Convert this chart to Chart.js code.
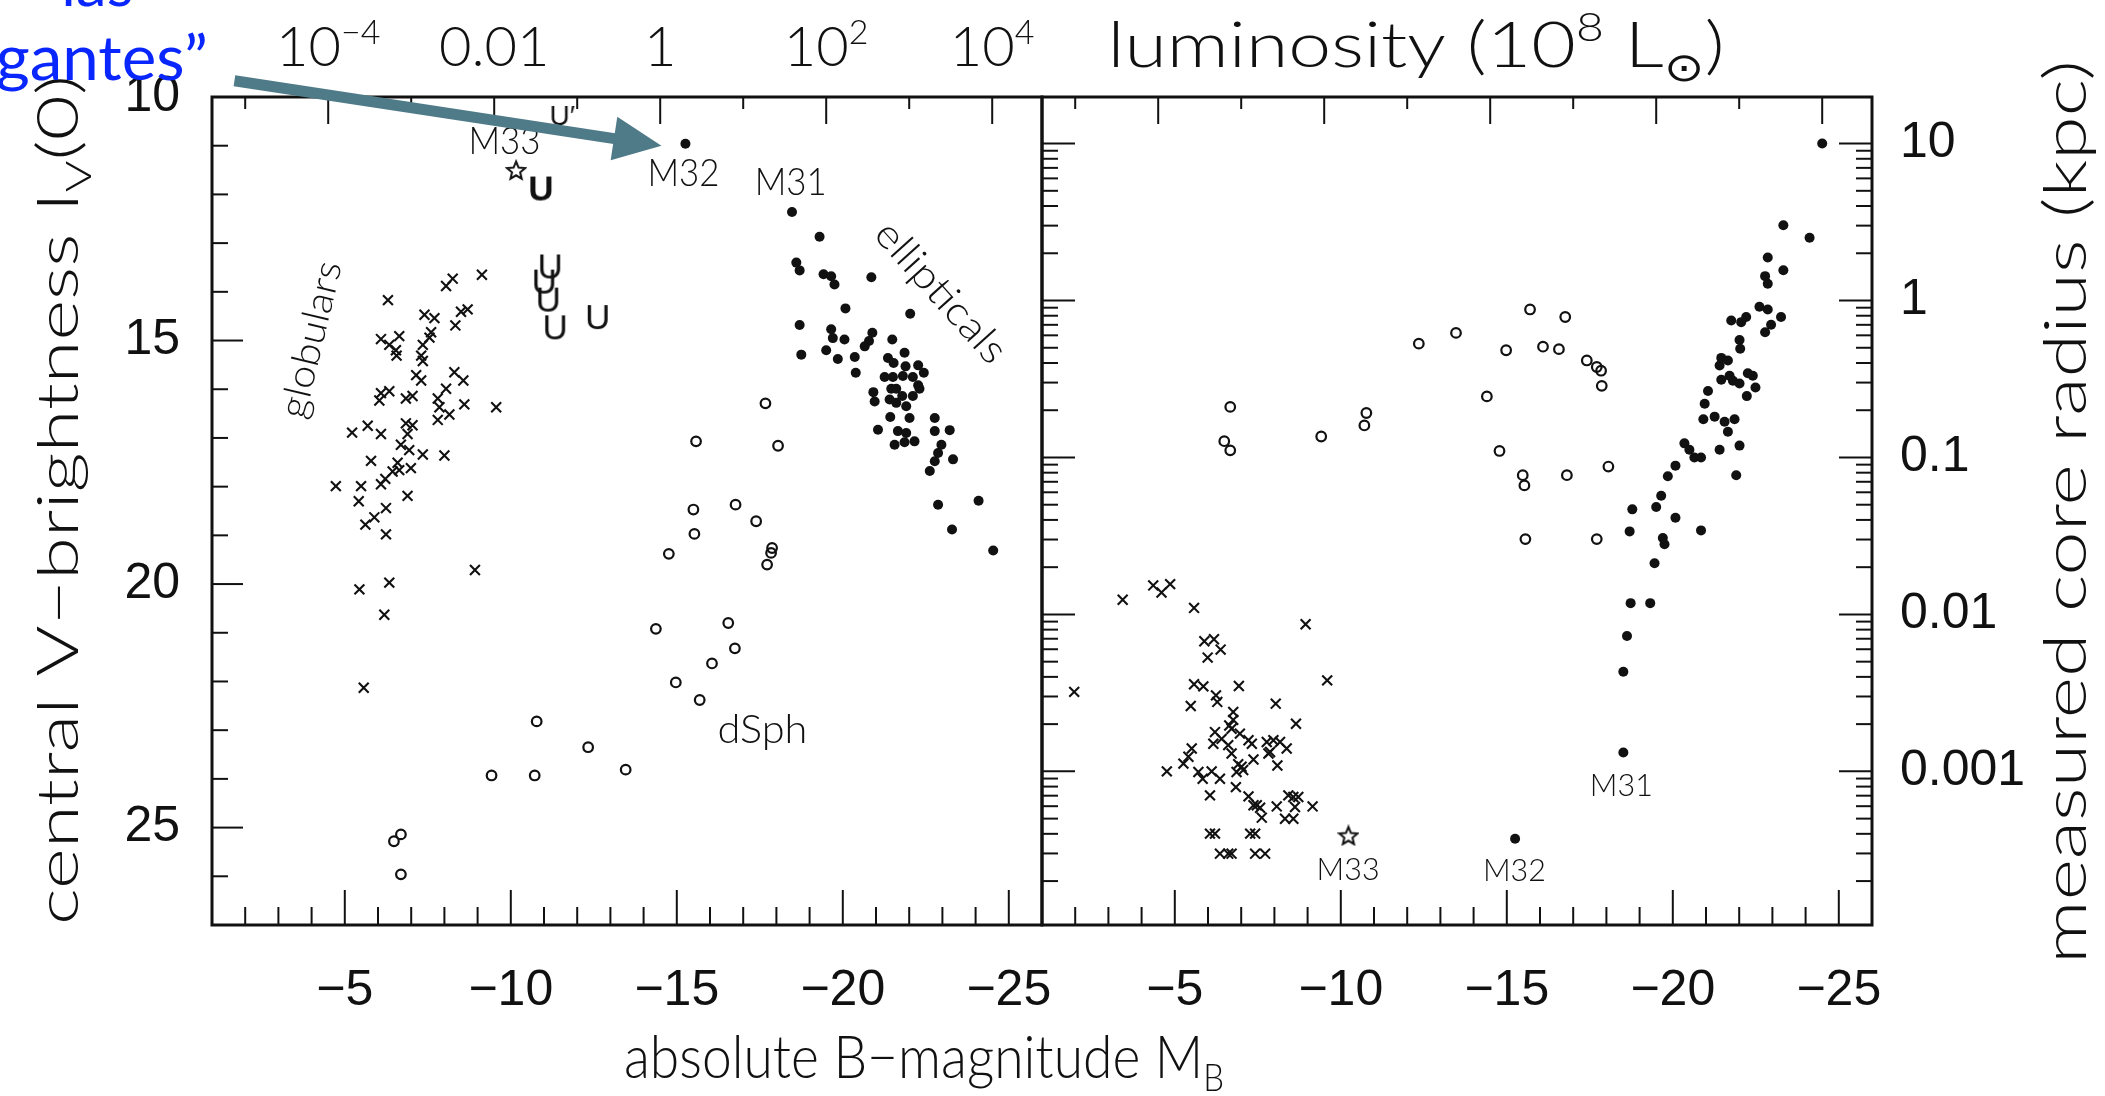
<!DOCTYPE html>
<html>
<head>
<meta charset="utf-8">
<title>Surface brightness and core radius vs absolute magnitude</title>
<script src="https://cdn.jsdelivr.net/npm/chart.js@4.4.1/dist/chart.umd.min.js"></script>
<style>
  html, body { margin: 0; padding: 0; background: #fff; }
  #wrap { position: relative; width: 2105px; height: 1096px; overflow: hidden; }
  #wrap canvas { position: absolute; left: 0; top: 0; }
</style>
</head>
<body>
<div id="wrap">
  <canvas id="brightness" width="2105" height="1096"></canvas>
  <canvas id="radius" width="2105" height="1096"></canvas>
</div>
<script>
// ---- left panel: central V surface brightness (mag/arcsec^2) against M_B ----
const globMagL = [-9.13,-8.25,-8.05,-6.30,-8.50,-8.70,-7.40,-7.70,-8.33,-7.60,-7.55,-6.09,-6.64,-6.34,-6.54,-6.56,-7.35,-7.30,-7.35,-7.15,-7.30,-8.30,-8.57,-8.05,-7.80,-6.09,-6.34,-6.04,-6.84,-7.04,-8.60,-9.56,-7.85,-8.15,-7.80,-5.22,-5.69,-6.09,-6.84,-7.04,-6.89,-6.69,-6.94,-7.35,-8.00,-5.79,-6.59,-6.64,-6.99,-6.44,-4.73,-5.49,-6.09,-6.22,-5.42,-6.89,-6.24,-5.89,-5.62,-6.24,-8.92,-5.44,-6.34,-6.19,-5.57];
const globMuL  = [13.65,13.73,13.88,14.17,14.41,14.36,14.47,14.54,14.69,14.83,14.94,14.97,14.91,15.09,15.20,15.31,15.09,15.31,15.42,15.71,15.82,15.65,15.82,15.99,16.19,16.08,16.04,16.23,16.19,16.14,16.31,16.37,16.37,16.52,16.63,16.89,16.75,16.92,16.70,16.74,16.92,17.14,17.25,17.34,17.36,17.47,17.51,17.66,17.62,17.69,17.99,17.99,17.95,17.84,18.30,18.19,18.44,18.63,18.78,18.98,19.71,20.11,19.97,20.63,22.13];

// first entry is M32, second M31
const ellMagL = [-15.26,-18.47,-19.30,-18.60,-18.70,-19.42,-19.65,-19.75,-20.86,-20.08,-22.03,-18.70,-18.75,-19.65,-19.70,-20.05,-19.50,-19.85,-20.36,-20.66,-20.79,-20.89,-20.39,-21.49,-21.36,-21.53,-21.86,-21.89,-22.27,-22.44,-21.26,-21.51,-21.81,-22.27,-22.31,-22.11,-20.92,-20.96,-21.46,-21.61,-21.79,-21.41,-21.61,-21.91,-22.11,-21.43,-22.01,-21.06,-21.66,-21.91,-22.77,-22.77,-23.22,-21.56,-21.86,-22.16,-22.97,-22.87,-22.77,-22.62,-23.32,-22.87,-24.09,-23.29,-24.53];
const ellMuL  = [10.96,12.36,12.87,13.40,13.56,13.64,13.68,13.85,13.70,14.34,14.45,14.68,15.29,14.77,14.95,14.98,15.20,15.38,15.34,15.12,15.01,14.84,15.66,14.98,15.36,15.46,15.25,15.53,15.51,15.66,15.75,15.75,15.73,15.92,15.99,15.75,16.06,16.25,15.99,15.99,16.14,16.21,16.28,16.35,16.14,16.57,16.59,16.83,16.86,16.90,16.59,16.86,16.84,17.14,17.09,17.07,17.14,17.31,17.48,17.68,17.44,18.37,18.29,18.88,19.31];

const dsphMagL = [-17.67,-15.58,-18.05,-15.50,-15.53,-16.77,-17.39,-14.76,-17.87,-17.84,-17.72,-14.37,-16.55,-16.75,-16.06,-14.97,-15.69,-10.78,-12.33,-9.42,-10.72,-13.46,-6.69,-6.48,-6.69];
const dsphMuL  = [16.29,17.07,17.16,18.47,18.97,18.37,18.71,19.38,19.26,19.36,19.60,20.92,20.80,21.32,21.63,22.02,22.38,22.82,23.35,23.93,23.93,23.81,25.14,25.28,25.96];

const uMagL = [-11.19,-11.01,-11.13,-11.34,-12.62];
const uMuL  = [13.50,13.81,14.18,14.75,14.54];
const uBoldMagL = [-10.91];
const uBoldMuL  = [11.90];
const uPrimeMagL = [-11.55];
const uPrimeMuL  = [10.39];
const m33MagL = [-10.16];
const m33MuL  = [11.50];

// ---- right panel: measured core radius (kpc) against M_B ----
const globMagR = [-1.97,-3.43,-4.35,-4.86,-4.60,-5.58,-8.94,-9.59,-5.89,-6.18,-6.38,-5.99,-5.58,-5.86,-6.24,-6.28,-6.93,-5.48,-8.04,-6.76,-6.76,-8.65,-6.64,-6.71,-6.21,-6.41,-6.16,-6.96,-7.22,-7.32,-6.61,-6.71,-7.77,-7.97,-8.17,-8.37,-7.87,-7.82,-8.09,-7.37,-5.51,-5.41,-5.26,-4.76,-5.71,-5.84,-6.11,-6.36,-6.91,-7.01,-6.86,-7.06,-6.06,-6.84,-7.22,-7.37,-7.47,-7.57,-7.62,-8.07,-8.42,-8.57,-8.72,-9.15,-8.62,-8.32,-8.57,-6.06,-6.21,-7.27,-7.42,-6.36,-6.61,-6.71,-7.42,-7.72];
const globRcR  = [0.00321,0.0124,0.0153,0.0156,0.0138,0.0110,0.00865,0.00380,0.00674,0.00695,0.00597,0.00531,0.00359,0.00348,0.00305,0.00277,0.00350,0.00261,0.00270,0.00239,0.00213,0.00201,0.00196,0.00187,0.00178,0.00161,0.00150,0.00174,0.00158,0.00150,0.00147,0.00130,0.00154,0.00158,0.00154,0.00140,0.00133,0.00130,0.00109,0.00119,0.00140,0.00124,0.00112,0.00100,0.000991,0.000897,0.00100,0.000897,0.00111,0.00107,0.000991,0.00102,0.000703,0.000794,0.000693,0.000608,0.000608,0.000587,0.000507,0.000598,0.000703,0.000687,0.000687,0.000598,0.000593,0.000499,0.000499,0.000401,0.000401,0.000401,0.000401,0.000299,0.000299,0.000299,0.000299,0.000299];

// second-to-last is M31, last is M32
const ellMagR = [-24.50,-23.33,-24.12,-22.86,-23.33,-22.78,-22.86,-22.61,-22.86,-23.26,-22.96,-22.78,-21.76,-22.21,-22.06,-22.01,-22.03,-21.46,-21.66,-21.41,-21.46,-21.81,-21.71,-22.26,-22.41,-22.01,-22.49,-22.23,-21.06,-20.96,-20.92,-21.26,-21.56,-21.66,-21.86,-20.35,-20.50,-20.65,-20.85,-21.41,-22.01,-21.91,-20.08,-19.85,-19.65,-19.50,-18.78,-20.08,-18.70,-19.70,-19.75,-20.85,-19.45,-18.73,-19.32,-18.62,-18.51,-18.51,-15.25];
const ellRcR  = [10.0,3.02,2.51,1.88,1.56,1.43,1.28,0.912,0.877,0.785,0.701,0.627,0.745,0.785,0.728,0.560,0.493,0.431,0.415,0.385,0.313,0.308,0.332,0.344,0.332,0.296,0.279,0.246,0.265,0.220,0.175,0.182,0.169,0.146,0.175,0.123,0.112,0.100,0.100,0.112,0.119,0.0771,0.0887,0.0759,0.0570,0.0484,0.0467,0.0413,0.0338,0.0307,0.0280,0.0343,0.0212,0.0118,0.0118,0.00728,0.00431,0.00132,0.000372];

const dsphMagR = [-12.35,-13.47,-14.40,-14.98,-15.70,-16.09,-16.57,-16.76,-17.41,-17.71,-17.84,-17.86,-14.78,-15.48,-15.53,-16.81,-18.06,-15.56,-17.71,-6.67,-6.49,-6.67,-9.41,-10.77,-10.71];
const dsphRcR  = [0.531,0.622,0.245,0.482,0.877,0.508,0.490,0.785,0.415,0.377,0.357,0.286,0.110,0.0771,0.0664,0.0771,0.0875,0.0302,0.0302,0.210,0.127,0.111,0.136,0.192,0.160];

const m33MagR = [-10.23];
const m33RcR  = [0.000391];

// ---- axis ticks ----
const magTicks = [-5, -10, -15, -20, -25];
const muTicks = [10, 15, 20, 25];
const rcTicks = [10, 1, 0.1, 0.01, 0.001];
const rcTickLabels = ['10', '1', '0.1', '0.01', '0.001'];
const lumTickMags = [-4.5, -9.5, -14.5, -19.5, -24.5];
const lumTickBase = ['10', '0.01', '1', '10', '10'];
const lumTickExp  = ['−4', '', '', '2', '4'];

const FONT = "Lato, 'Noto Sans', sans-serif";
const NUM_FONT = "'Liberation Sans Narrow', 'Liberation Sans', sans-serif";
const INK = '#111';
const BLUE = '#0a26ff';
const ARROW = '#4f7b88';

const pts = (xs, ys) => xs.map((x, i) => ({ x, y: ys[i] }));

// text with optional sub/superscript parts, optionally rotated and fitted to a width
function rich(ctx, parts, x, y, size, o = {}) {
  const { align = 'left', rot = 0, width = null, family = FONT, color = INK, weight = '300', baseline = 'alphabetic', small = 0.62 } = o;
  ctx.save();
  ctx.translate(x, y);
  ctx.rotate(rot);
  ctx.fillStyle = color;
  ctx.textAlign = 'left';
  ctx.textBaseline = baseline;
  const fontFor = k => `${weight} ${k ? Math.round(size * small) : size}px ${family}`;
  const widths = parts.map(([t, k]) => { ctx.font = fontFor(k); return ctx.measureText(t).width; });
  const total = widths.reduce((s, w) => s + w, 0);
  if (width) ctx.scale(width / total, 1);
  let cx = align === 'center' ? -total / 2 : align === 'right' ? -total : 0;
  parts.forEach(([t, k], i) => {
    ctx.font = fontFor(k);
    const dy = k === 'sup' ? -size * 0.4 : k === 'sub' ? size * 0.22 : 0;
    ctx.fillText(t, cx, dy);
    cx += widths[i];
  });
  ctx.restore();
}

function seg(ctx, x1, y1, x2, y2) {
  ctx.beginPath(); ctx.moveTo(x1, y1); ctx.lineTo(x2, y2); ctx.stroke();
}

// marker images: open star, upper-limit "U" glyphs
function openStar(size) {
  const c = document.createElement('canvas');
  c.width = c.height = size;
  const g = c.getContext('2d');
  const cx = size / 2, cy = size / 2 + 1, ro = size / 2 - 1.5, ri = ro * 0.45;
  g.beginPath();
  for (let k = 0; k < 10; k++) {
    const r = k % 2 ? ri : ro;
    const a = -Math.PI / 2 + k * Math.PI / 5;
    g.lineTo(cx + r * Math.cos(a), cy + r * Math.sin(a));
  }
  g.closePath();
  g.lineWidth = 2;
  g.strokeStyle = INK;
  g.stroke();
  return c;
}
function glyph(text, font, w, h) {
  const c = document.createElement('canvas');
  c.width = w; c.height = h;
  const g = c.getContext('2d');
  g.fillStyle = INK;
  g.font = font;
  g.textAlign = 'center';
  g.textBaseline = 'middle';
  g.fillText(text, w / 2, h / 2 + 1);
  return c;
}
const starImg = openStar(22);
const uImg = glyph('U', "400 35px 'Liberation Sans'", 30, 34);
const uBoldImg = glyph('U', "700 35px 'Liberation Sans'", 30, 34);
const uPrimeImg = glyph('U\u2032', "400 28px 'Liberation Sans'", 34, 30);

const crossSet = data => ({ data, pointStyle: 'crossRot', pointRadius: 7, pointHoverRadius: 7,
  pointBorderColor: INK, pointBackgroundColor: INK, pointBorderWidth: 2.1 });
const dotSet = data => ({ data, pointStyle: 'circle', pointRadius: 5, pointHoverRadius: 5,
  pointBackgroundColor: INK, pointBorderColor: INK, pointBorderWidth: 0 });
const ringSet = data => ({ data, pointStyle: 'circle', pointRadius: 4.8, pointHoverRadius: 4.8,
  pointBackgroundColor: 'rgba(0,0,0,0)', pointBorderColor: INK, pointBorderWidth: 2.2 });
const imgSet = (data, img) => ({ data, pointStyle: img, pointRadius: 10, pointHoverRadius: 10 });

// frame and inward tick marks for both panels
const framePlugin = {
  id: 'frame',
  afterDatasetsDraw(chart, args, o) {
    const { ctx, chartArea: a } = chart;
    const xs = chart.scales.x, ys = chart.scales.y;
    ctx.save();
    ctx.strokeStyle = INK;
    ctx.lineWidth = 2;
    for (let m = -2; m >= -25; m--) {
      const px = xs.getPixelForValue(m);
      seg(ctx, px, a.bottom, px, a.bottom - (m % 5 === 0 ? 35 : 18));
    }
    // luminosity ticks: one per factor of ten
    for (let k = 0; k < 10; k++) {
      const px = xs.getPixelForValue(-2 - 2.5 * k);
      seg(ctx, px, a.top, px, a.top + (k % 2 ? 27 : 12));
    }
    if (o.kind === 'lin') {
      for (let v = 11; v <= 26; v++) {
        const py = ys.getPixelForValue(v);
        seg(ctx, a.left, py, a.left + (v % 5 === 0 ? 31 : 16), py);
      }
    } else {
      for (let e = -4; e <= 1; e++) {
        for (let f = 1; f <= 9; f++) {
          const v = f * Math.pow(10, e);
          if (v < ys.min || v > ys.max) continue;
          const py = ys.getPixelForValue(v);
          const len = f === 1 ? 33 : 16;
          seg(ctx, a.left, py, a.left + len, py);
          seg(ctx, a.right, py, a.right - len, py);
        }
      }
    }
    ctx.lineWidth = 3;
    ctx.strokeRect(a.left, a.top, a.right - a.left, a.bottom - a.top);
    ctx.restore();
  }
};

const leftNotes = {
  id: 'leftNotes',
  afterDraw(chart) {
    const { ctx } = chart;
    const xs = chart.scales.x, ys = chart.scales.y;
    const at = (m, mu) => [xs.getPixelForValue(m), ys.getPixelForValue(mu)];

    [['M33', -9.81, 10.93], ['M32', -15.20, 11.59], ['M31', -18.43, 11.76]].forEach(([t, m, mu]) => {
      const [px, py] = at(m, mu);
      rich(ctx, [[t]], px, py, 37, { align: 'center', baseline: 'middle', width: 72 });
    });
    let p = at(-17.58, 22.99);
    rich(ctx, [['dSph']], p[0], p[1], 40, { align: 'center', baseline: 'middle', width: 90 });
    p = at(-3.99, 14.98);
    rich(ctx, [['globulars']], p[0], p[1], 38, { align: 'center', baseline: 'middle', rot: -76.5 * Math.PI / 180, width: 160 });
    p = at(-22.95, 14.01);
    rich(ctx, [['ellipticals']], p[0], p[1], 40, { align: 'center', baseline: 'middle', rot: 48 * Math.PI / 180, width: 176 });

    // luminosity scale along the top
    lumTickMags.forEach((m, i) => {
      const parts = [[lumTickBase[i]]];
      if (lumTickExp[i]) parts.push([lumTickExp[i], 'sup']);
      rich(ctx, parts, xs.getPixelForValue(m), 66, 56, { align: 'center', small: 0.6 });
    });

    // axis titles
    rich(ctx, [['luminosity (10'], ['8', 'sup'], [' L'], ['⊙', 'sub'], [')']], 1416, 67, 64, { align: 'center', width: 617 });
    rich(ctx, [['central V−brightness I'], ['V', 'sub'], ['(0)']], 78, 500, 58, { align: 'center', rot: -Math.PI / 2, width: 850 });
    rich(ctx, [['absolute B−magnitude M'], ['B', 'sub']], 924, 1078, 60, { align: 'center', width: 600 });

    // caption in the corner and its pointer to M32
    rich(ctx, [['“las']], 86, 6, 62, { align: 'center', color: BLUE, weight: '400' });
    rich(ctx, [['gigantes”']], 208, 80, 62, { align: 'right', color: BLUE, weight: '400', width: 262 });

    const [mx, my] = at(ellMagL[0], ellMuL[0]);
    const tip = [mx - 24, my + 2];
    const tail = [tip[0] - 427, tip[1] - 65];
    const len = Math.hypot(tip[0] - tail[0], tip[1] - tail[1]);
    const d = [(tip[0] - tail[0]) / len, (tip[1] - tail[1]) / len];
    const n = [-d[1], d[0]];
    const base = [tip[0] - d[0] * 48, tip[1] - d[1] * 48];
    ctx.save();
    ctx.strokeStyle = ARROW;
    ctx.fillStyle = ARROW;
    ctx.lineWidth = 11;
    seg(ctx, tail[0], tail[1], base[0] + d[0] * 2, base[1] + d[1] * 2);
    ctx.beginPath();
    ctx.moveTo(tip[0], tip[1]);
    ctx.lineTo(base[0] + n[0] * 22, base[1] + n[1] * 22);
    ctx.lineTo(base[0] - n[0] * 22, base[1] - n[1] * 22);
    ctx.closePath();
    ctx.fill();
    ctx.restore();
  }
};

const rightNotes = {
  id: 'rightNotes',
  afterDraw(chart) {
    const { ctx } = chart;
    const xs = chart.scales.x, ys = chart.scales.y;
    [['M31', -18.45, 8.15e-4], ['M32', -15.23, 2.34e-4], ['M33', -10.22, 2.37e-4]].forEach(([t, m, r]) => {
      rich(ctx, [[t]], xs.getPixelForValue(m), ys.getPixelForValue(r), 32, { align: 'center', baseline: 'middle', width: 63 });
    });
    rich(ctx, [['measured core radius (kpc)']], 2086, 512, 60, { align: 'center', rot: -Math.PI / 2, width: 904 });
  }
};

const tickFont = { family: NUM_FONT, size: 50 };
const magAxis = {
  type: 'linear', position: 'bottom', min: -26, max: -1, reverse: true,
  grid: { display: false, drawTicks: false }, border: { display: false },
  afterBuildTicks: s => { s.ticks = magTicks.map(v => ({ value: v })); },
  afterFit: s => { s.height = 171; },
  ticks: { callback: v => '−' + Math.abs(v), font: tickFont, color: INK, padding: 36, maxRotation: 0, autoSkip: false }
};

Chart.defaults.font.family = FONT;

new Chart(document.getElementById('brightness'), {
  type: 'scatter',
  data: {
    datasets: [
      crossSet(pts(globMagL, globMuL)),
      dotSet(pts(ellMagL, ellMuL)),
      ringSet(pts(dsphMagL, dsphMuL)),
      imgSet(pts(m33MagL, m33MuL), starImg),
      imgSet(pts(uMagL, uMuL), uImg),
      imgSet(pts(uBoldMagL, uBoldMuL), uBoldImg),
      imgSet(pts(uPrimeMagL, uPrimeMuL), uPrimeImg)
    ]
  },
  options: {
    responsive: false,
    animation: false,
    devicePixelRatio: 1,
    events: [],
    layout: { padding: { left: 0, top: 97, right: 2105 - 1042, bottom: 0 } },
    plugins: { legend: { display: false }, tooltip: { enabled: false }, frame: { kind: 'lin' } },
    scales: {
      x: magAxis,
      y: {
        type: 'linear', position: 'left', min: 10, max: 27, reverse: true,
        grid: { display: false, drawTicks: false }, border: { display: false },
        afterBuildTicks: s => { s.ticks = muTicks.map(v => ({ value: v })); },
        afterFit: s => { s.width = 212; },
        ticks: { callback: v => String(v), font: tickFont, color: INK, padding: 32 }
      }
    }
  },
  plugins: [framePlugin, leftNotes]
});

new Chart(document.getElementById('radius'), {
  type: 'scatter',
  data: {
    datasets: [
      crossSet(pts(globMagR, globRcR)),
      dotSet(pts(ellMagR, ellRcR)),
      ringSet(pts(dsphMagR, dsphRcR)),
      imgSet(pts(m33MagR, m33RcR), starImg)
    ]
  },
  options: {
    responsive: false,
    animation: false,
    devicePixelRatio: 1,
    events: [],
    layout: { padding: { left: 1042, top: 97, right: 0, bottom: 0 } },
    plugins: { legend: { display: false }, tooltip: { enabled: false }, frame: { kind: 'log' } },
    scales: {
      x: magAxis,
      y: {
        type: 'logarithmic', position: 'right', min: 1.05e-4, max: 19.8,
        grid: { display: false, drawTicks: false }, border: { display: false },
        afterBuildTicks: s => { s.ticks = rcTicks.map(v => ({ value: v })); },
        afterFit: s => { s.width = 2105 - 1872; },
        ticks: { callback: v => rcTickLabels[rcTicks.indexOf(v)], font: tickFont, color: INK, padding: 28 }
      }
    }
  },
  plugins: [framePlugin, rightNotes]
});
</script>
</body>
</html>
